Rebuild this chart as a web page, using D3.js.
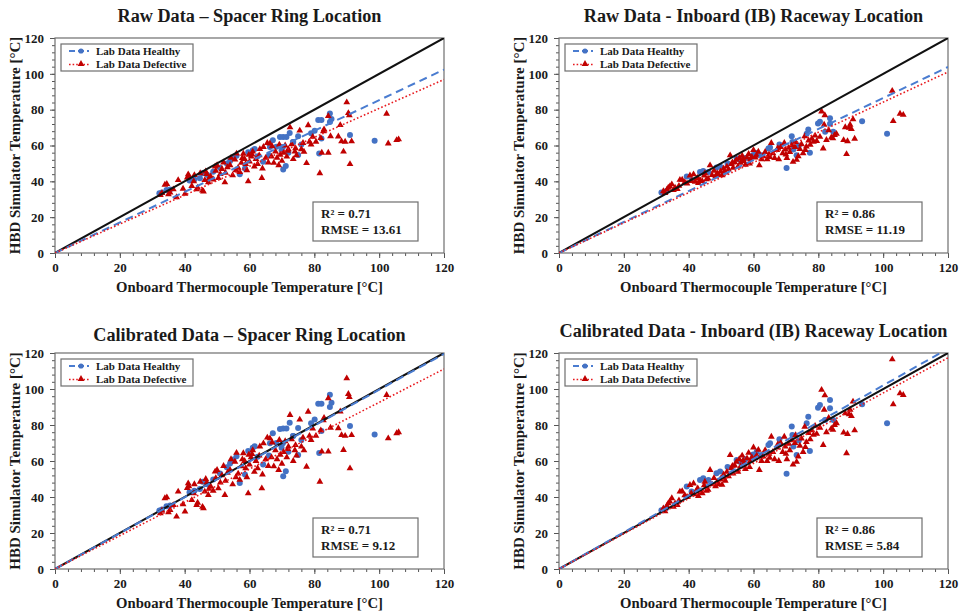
<!DOCTYPE html>
<html>
<head>
<meta charset="utf-8">
<script src="https://cdn.jsdelivr.net/npm/d3@7"></script>
<style>
  html, body { margin: 0; padding: 0; background: #fff; }
  svg { display: block; }
  text { font-family: "Liberation Serif", "Times New Roman", serif; font-weight: bold; fill: #1a1a1a; }
</style>
</head>
<body>
<svg id="chart" width="962" height="614"></svg>
<script>
// ---------------- DATA ----------------
const panelTitles = [
  "Raw Data \u2013 Spacer Ring Location",
  "Raw Data - Inboard (IB) Raceway Location",
  "Calibrated Data \u2013 Spacer Ring Location",
  "Calibrated Data - Inboard (IB) Raceway Location"
];
const xAxisTitle = "Onboard Thermocouple Temperature [\u00B0C]";
const yAxisTitle = "HBD Simulator Temperature [\u00B0C]";
const legendLabels = ["Lab Data Healthy", "Lab Data Defective"];
const r2Values = ["0.71", "0.86", "0.71", "0.86"];
const rmseValues = ["13.61", "11.19", "9.12", "5.84"];
const majorTicks = [0, 20, 40, 60, 80, 100, 120];
const minorTicks = [0,4,8,12,16,20,24,28,32,36,40,44,48,52,56,60,64,68,72,76,80,84,88,92,96,100,104,108,112,116,120];

// trend-line slopes (through origin)
const healthySlopes = [0.853, 0.865, 0.996, 1.02];
const defectiveSlopes = [0.807, 0.842, 0.926, 0.978];

// Spacer ring location – healthy
const spacerHealthyX   = [32.2,33.0,34.4,35.5,41.5,43.0,44.7,45.5,47.0,48.8,50.9,53.0,54.0,55.0,56.0,57.0,58.6,59.6,61.0,61.6,62.5,64.2,66.0,68.3,69.9,70.4,71.4,72.4,70.4,71.2,72.0,75.0,76.0,79.0,80.1,81.2,82.2,84.8,85.3,81.5,82.2,91.0,98.6,73.5,
  66.3,67.2,69.4,70.3,73.4,75.0,84.8];
const spacerHealthyRaw = [33.4,33.8,35.1,35.4,40.5,41.0,41.7,44.5,43.5,45.3,47.6,50.0,51.4,53.0,54.3,44.0,47.2,56.2,57.4,58.1,54.0,51.0,54.5,59.3,57.4,64.8,64.8,67.0,46.6,48.5,56.0,65.1,60.5,66.9,68.3,74.3,74.3,77.8,74.8,55.5,63.9,65.8,62.6,62.0,
  59.2,63.0,64.7,59.2,62.0,54.7,73.1];
const spacerHealthyCal = [32.5,33.0,34.9,35.3,42.7,43.5,44.5,48.5,47.1,49.7,53.0,56.5,58.6,60.8,62.7,47.8,52.5,65.5,67.3,68.2,62.3,58.0,63.0,70.0,67.3,78.0,78.0,81.2,51.5,54.3,65.2,78.4,71.7,81.0,83.0,91.8,91.8,96.8,92.4,64.5,76.6,79.4,74.7,73.9,
  69.8,75.4,77.8,69.8,73.9,63.3,90.0];

// Spacer ring location – defective
const spacerDefectX = [32.5,33.0,33.9,34.5,35.0,35.5,36.5,37.5,38.0,39.5,
  40.1,40.8,41.1,41.3,42.2,42.8,43.7,44.0,44.8,45.5,45.8,46.2,46.8,47.3,47.5,48.0,48.8,49.4,49.6,50.0,
  50.4,51.0,51.5,52.4,52.6,53.2,54.0,54.3,54.8,55.5,55.8,56.5,57.0,57.5,58.1,58.5,58.8,59.2,59.6,59.8,60.0,
  60.5,61.0,61.5,62.0,62.5,63.0,63.8,64.0,64.3,65.0,65.5,66.3,66.8,67.5,68.0,68.5,69.0,69.5,70.0,
  70.5,71.0,71.5,72.0,72.5,73.0,73.5,74.0,74.5,75.5,76.0,76.5,77.6,78.1,78.5,79.5,80.5,
  81.7,82.0,82.3,83.0,84.3,84.3,85.0,87.4,88.0,88.4,89.0,90.0,90.5,90.8,89.5,91.0,91.5,
  102.3,102.8,105.4,106.0,
  56.0,60.8,63.2,67.0,69.2,71.8,74.2,76.8,79.0,52.0,46.5,43.0,57.8,65.8,82.8];
const spacerDefectRaw = [32.4,33.4,38.1,38.5,32.8,33.7,35.5,31.1,40.7,35.9,
  33.0,42.1,43.9,42.8,37.4,40.0,35.6,36.4,44.5,34.8,34.3,40.7,44.1,39.4,41.7,42.8,41.0,48.3,45.9,49.0,
  41.9,44.1,46.9,39.4,44.8,47.9,49.0,53.1,43.4,52.1,46.2,47.6,45.2,50.3,55.4,52.4,49.7,46.2,40.0,54.8,51.0,
  53.8,56.6,48.3,52.4,49.7,54.5,41.9,47.2,59.2,53.1,61.4,61.1,53.8,50.3,56.6,53.1,49.0,54.8,51.4,
  55.9,60.0,53.8,57.9,70.1,60.7,52.4,56.6,54.5,68.3,57.9,61.4,50.2,71.3,62.1,64.8,62.1,
  44.5,64.1,56.0,69.0,56.0,76.4,65.2,65.0,71.4,62.3,56.6,84.1,78.1,76.9,62.1,49.6,62.3,
  77.7,61.1,63.0,63.4,
  55.5,55.0,58.0,59.5,60.5,57.0,58.5,56.5,60.5,50.5,45.5,43.5,53.0,50.5,68.0];
const spacerDefectCal = [31.0,32.5,39.3,39.8,31.5,32.8,35.5,29.1,43.0,36.0,
  31.9,45.0,47.6,46.0,38.3,42.0,35.6,36.8,48.5,34.5,33.7,43.0,48.0,41.1,44.5,46.0,43.5,54.1,50.5,55.0,
  44.8,48.0,52.0,41.1,49.0,53.5,55.0,61.0,47.0,59.6,51.0,53.0,49.5,57.0,64.3,60.0,56.0,51.0,42.0,63.5,58.0,
  62.0,66.0,54.0,60.0,56.0,63.0,44.8,52.5,69.8,61.0,73.0,72.6,62.0,57.0,66.0,61.0,55.0,63.5,58.5,
  65.0,71.0,62.0,68.0,85.6,72.0,60.0,66.0,63.0,83.0,68.0,73.0,56.8,87.4,74.0,78.0,74.0,
  48.5,77.0,65.2,84.0,65.2,94.8,78.5,78.2,87.5,74.4,66.1,105.9,97.2,95.5,74.0,55.9,74.4,
  96.7,72.6,75.4,76.0,
  64.5,63.8,68.1,70.3,71.7,66.7,68.8,65.9,71.7,57.2,50.0,47.1,60.9,57.2,82.6];

// Inboard (IB) raceway location – healthy
const ibHealthyX   = [31.6,33.0,39.4,40.9,43.5,44.5,46.1,48.6,49.7,52.0,54.8,55.8,57.5,59.9,61.0,62.5,64.6,65.1,68.0,70.2,71.8,72.3,73.3,74.0,76.4,76.9,77.4,79.9,80.5,82.1,83.6,83.6,84.6,93.5,101.2,72.0];
const ibHealthyRaw = [33.8,34.5,42.7,40.8,45.2,45.8,45.2,47.7,48.3,50.0,52.7,52.0,53.0,54.7,55.8,54.5,58.3,58.9,60.5,47.5,65.2,57.7,54.5,60.0,66.5,68.9,56.0,72.3,73.3,67.7,75.2,72.1,67.7,73.6,66.5,62.0];
const ibHealthyCal = [32.6,33.7,45.8,43.0,49.5,50.4,49.5,53.2,54.1,56.6,60.6,59.6,61.0,63.6,65.2,63.3,68.9,69.8,72.1,52.9,79.1,68.0,63.3,71.4,81.0,84.6,65.5,89.6,91.1,82.8,93.9,89.3,82.8,91.5,81.0,74.4];

// Inboard (IB) raceway location – defective
const ibDefectX = [32.2,32.7,33.3,33.7,34.2,34.8,35.3,35.8,36.5,37.3,38.0,38.8,39.5,
  40.4,40.8,41.5,42.0,42.5,43.0,43.6,44.2,44.8,45.5,46.0,46.6,47.2,47.8,48.3,48.8,49.3,49.8,
  50.3,50.8,51.3,51.8,52.3,52.8,53.2,53.7,54.2,54.7,55.2,55.6,56.0,56.5,57.0,57.5,58.0,58.5,59.0,59.5,60.0,
  60.5,61.0,61.8,62.5,63.0,63.6,64.2,64.8,65.5,66.0,66.5,67.2,67.8,68.4,69.0,69.5,69.8,
  70.3,70.8,71.2,71.8,72.2,72.8,73.3,73.8,74.3,74.8,75.3,75.8,76.3,77.0,77.5,78.0,78.5,79.0,
  80.5,81.0,81.5,81.8,82.0,82.5,83.2,84.0,85.0,85.6,87.8,88.3,88.7,89.0,89.5,89.8,90.2,90.7,91.2,
  102.8,103.1,105.2,106.2,
  45.0,51.0,53.5,56.8,58.8,61.5,65.0,67.5,70.0,73.0,76.0,79.5,84.5,37.0,42.8];
const ibDefectRaw = [34.5,33.4,35.4,36.4,37.1,38.3,35.1,36.4,35.7,40.8,40.9,39.5,38.8,
  43.3,40.1,43.9,39.8,41.5,39.1,40.5,40.1,43.2,41.1,41.5,48.9,43.5,45.9,42.8,44.5,43.5,45.5,
  43.4,47.2,44.9,48.2,46.6,54.5,49.6,47.6,50.6,52.0,48.2,53.0,50.3,54.3,51.3,49.3,53.3,55.3,52.3,53.6,57.4,
  53.3,54.3,48.9,52.3,54.0,56.4,52.3,55.0,61.4,55.7,53.0,57.4,52.3,59.1,55.7,61.4,57.7,
  53.0,58.7,56.4,60.1,50.9,59.1,52.0,54.0,58.0,60.7,55.7,65.1,59.4,62.8,60.4,63.8,62.1,65.5,
  64.8,79.0,58.3,71.6,76.9,63.1,68.5,64.5,65.8,66.5,63.0,70.2,55.2,62.4,69.9,71.6,69.2,74.6,63.8,
  90.5,73.6,77.7,77.1,
  44.5,45.5,50.5,52.5,50.0,56.5,53.5,58.5,55.0,62.0,57.5,62.5,64.0,37.5,42.0];
const ibDefectCal = [33.7,32.0,35.0,36.5,37.5,39.3,34.5,36.5,35.5,43.0,43.2,41.0,40.0,
  46.7,42.0,47.5,41.5,44.0,40.5,42.5,42.0,46.5,43.5,44.0,55.0,47.0,50.5,46.0,48.5,47.0,50.0,
  46.8,52.5,49.0,54.0,51.5,63.3,56.0,53.0,57.5,59.5,54.0,61.0,57.0,63.0,58.5,55.5,61.5,64.5,60.0,62.0,67.5,
  61.5,63.0,55.0,60.0,62.5,66.0,60.0,64.0,73.5,65.0,61.0,67.5,60.0,70.0,65.0,73.5,68.0,
  61.0,69.5,66.0,71.5,58.0,70.0,59.5,62.5,68.5,72.5,65.0,79.0,70.5,75.5,72.0,77.0,74.5,79.5,
  78.5,99.5,68.9,88.5,96.5,76.0,84.0,78.0,80.0,81.0,75.8,86.5,64.3,75.0,86.0,88.5,85.0,93.0,77.0,
  116.5,91.5,97.6,96.7,
  48.5,49.9,57.3,60.3,56.6,66.2,61.8,69.2,64.0,74.4,67.7,75.1,77.3,38.1,44.8];

// ---------------- LAYOUT ----------------
const BLUE = "#4472C4";
const BLUE_LINE = "#4A7CD0";
const RED = "#C00000";
const RED_LINE = "#E8191E";

const panels = [
  { left: 55,  top: 38,  w: 389, h: 215, titleY: 22,  yLabX: 20,  xLabY: 292,
    hx: spacerHealthyX, hy: spacerHealthyRaw, dx: spacerDefectX, dy: spacerDefectRaw },
  { left: 559, top: 38,  w: 389, h: 215, titleY: 22,  yLabX: 524, xLabY: 292,
    hx: ibHealthyX, hy: ibHealthyRaw, dx: ibDefectX, dy: ibDefectRaw },
  { left: 55,  top: 353, w: 389, h: 216, titleY: 341, yLabX: 20,  xLabY: 608,
    hx: spacerHealthyX, hy: spacerHealthyCal, dx: spacerDefectX, dy: spacerDefectCal },
  { left: 559, top: 353, w: 389, h: 216, titleY: 337, yLabX: 524, xLabY: 608,
    hx: ibHealthyX, hy: ibHealthyCal, dx: ibDefectX, dy: ibDefectCal }
];

const svg = d3.select("#chart");
const defs = svg.append("defs");

panels.forEach((p, i) => {
  const x = d3.scaleLinear().domain([0, 120]).range([0, p.w]);
  const y = d3.scaleLinear().domain([0, 120]).range([p.h, 0]);

  // title
  svg.append("text")
    .attr("x", p.left + p.w / 2).attr("y", p.titleY)
    .attr("text-anchor", "middle").style("font-size", "18.2px")
    .text(panelTitles[i]);

  // axis titles
  svg.append("text")
    .attr("transform", `translate(${p.yLabX},${p.top + p.h / 2}) rotate(-90)`)
    .attr("text-anchor", "middle").style("font-size", "15px")
    .text(yAxisTitle);
  svg.append("text")
    .attr("x", p.left + p.w / 2).attr("y", p.xLabY)
    .attr("text-anchor", "middle").style("font-size", "14.7px")
    .text(xAxisTitle);

  const g = svg.append("g").attr("transform", `translate(${p.left},${p.top})`);

  defs.append("clipPath").attr("id", "clip" + i)
    .append("rect").attr("x", 0).attr("y", 0).attr("width", p.w).attr("height", p.h);

  // minor ticks
  const xMinor = g.append("g").attr("transform", `translate(0,${p.h})`)
    .call(d3.axisBottom(x).tickValues(minorTicks).tickSize(3).tickSizeOuter(0).tickFormat(""));
  const yMinor = g.append("g")
    .call(d3.axisLeft(y).tickValues(minorTicks).tickSize(3).tickSizeOuter(0).tickFormat(""));
  [xMinor, yMinor].forEach(a => { a.select(".domain").remove(); a.selectAll("line").attr("stroke", "#555"); });

  // major ticks + labels
  const xAx = g.append("g").attr("transform", `translate(0,${p.h})`)
    .call(d3.axisBottom(x).tickValues(majorTicks).tickSize(5).tickSizeOuter(0).tickPadding(5));
  const yAx = g.append("g")
    .call(d3.axisLeft(y).tickValues(majorTicks).tickSize(5).tickSizeOuter(0).tickPadding(6));
  [xAx, yAx].forEach(a => {
    a.select(".domain").remove();
    a.selectAll("line").attr("stroke", "#555");
    a.selectAll("text").style("font-size", "13px").style("font-family", '"Liberation Serif","Times New Roman",serif')
      .style("font-weight", "bold").attr("fill", "#1a1a1a");
  });

  // plot border
  g.append("rect").attr("x", 0).attr("y", 0).attr("width", p.w).attr("height", p.h)
    .attr("fill", "none").attr("stroke", "#6e6e6e").attr("stroke-width", 1.2);

  const inner = g.append("g").attr("clip-path", `url(#clip${i})`);

  // markers
  inner.selectAll("circle.h").data(p.hx.map((v, k) => [v, p.hy[k]])).enter()
    .append("circle").attr("class", "h")
    .attr("cx", d => x(d[0])).attr("cy", d => y(d[1])).attr("r", 3)
    .attr("fill", BLUE);
  inner.selectAll("path.d").data(p.dx.map((v, k) => [v, p.dy[k]])).enter()
    .append("path").attr("class", "d")
    .attr("d", d3.symbol(d3.symbolTriangle).size(20)())
    .attr("transform", d => `translate(${x(d[0])},${y(d[1])})`)
    .attr("fill", RED);

  // 1:1 line
  inner.append("line")
    .attr("x1", x(0)).attr("y1", y(0)).attr("x2", x(120)).attr("y2", y(120))
    .attr("stroke", "#111").attr("stroke-width", 2);

  // trend lines (through origin)
  inner.append("line")
    .attr("x1", x(0)).attr("y1", y(0)).attr("x2", x(120)).attr("y2", y(120 * healthySlopes[i]))
    .attr("stroke", BLUE_LINE).attr("stroke-width", 2).attr("stroke-dasharray", "8,5");
  inner.append("line")
    .attr("x1", x(0)).attr("y1", y(0)).attr("x2", x(120)).attr("y2", y(120 * defectiveSlopes[i]))
    .attr("stroke", RED_LINE).attr("stroke-width", 1.6).attr("stroke-dasharray", "1.6,2.2");

  // legend
  const lg = g.append("g").attr("transform", "translate(6,6)");
  lg.append("rect").attr("x", 0).attr("y", 0).attr("width", 132).attr("height", 27)
    .attr("fill", "#fff").attr("stroke", "#6e6e6e").attr("stroke-width", 1.2);
  lg.append("line").attr("x1", 8).attr("x2", 28).attr("y1", 7).attr("y2", 7)
    .attr("stroke", BLUE_LINE).attr("stroke-width", 2).attr("stroke-dasharray", "6,3");
  lg.append("circle").attr("cx", 20).attr("cy", 7).attr("r", 2.6).attr("fill", BLUE);
  lg.append("line").attr("x1", 8).attr("x2", 28).attr("y1", 20.5).attr("y2", 20.5)
    .attr("stroke", RED_LINE).attr("stroke-width", 1.6).attr("stroke-dasharray", "1.6,2");
  lg.append("path").attr("d", d3.symbol(d3.symbolTriangle).size(20)())
    .attr("transform", "translate(20,20)").attr("fill", RED);
  lg.append("text").attr("x", 35).attr("y", 10.5).style("font-size", "11px").text(legendLabels[0]);
  lg.append("text").attr("x", 35).attr("y", 24).style("font-size", "11px").text(legendLabels[1]);

  // stats box
  const sb = g.append("g").attr("transform", `translate(${p.w - 131},${p.h - 51})`);
  sb.append("rect").attr("x", 0).attr("y", 0).attr("width", 105).attr("height", 39)
    .attr("fill", "#fff").attr("stroke", "#6e6e6e").attr("stroke-width", 1.2);
  sb.append("text").attr("x", 8).attr("y", 16).style("font-size", "13px")
    .text("R\u00B2 = " + r2Values[i]);
  sb.append("text").attr("x", 8).attr("y", 32).style("font-size", "13px")
    .text("RMSE = " + rmseValues[i]);
});
</script>
</body>
</html>
